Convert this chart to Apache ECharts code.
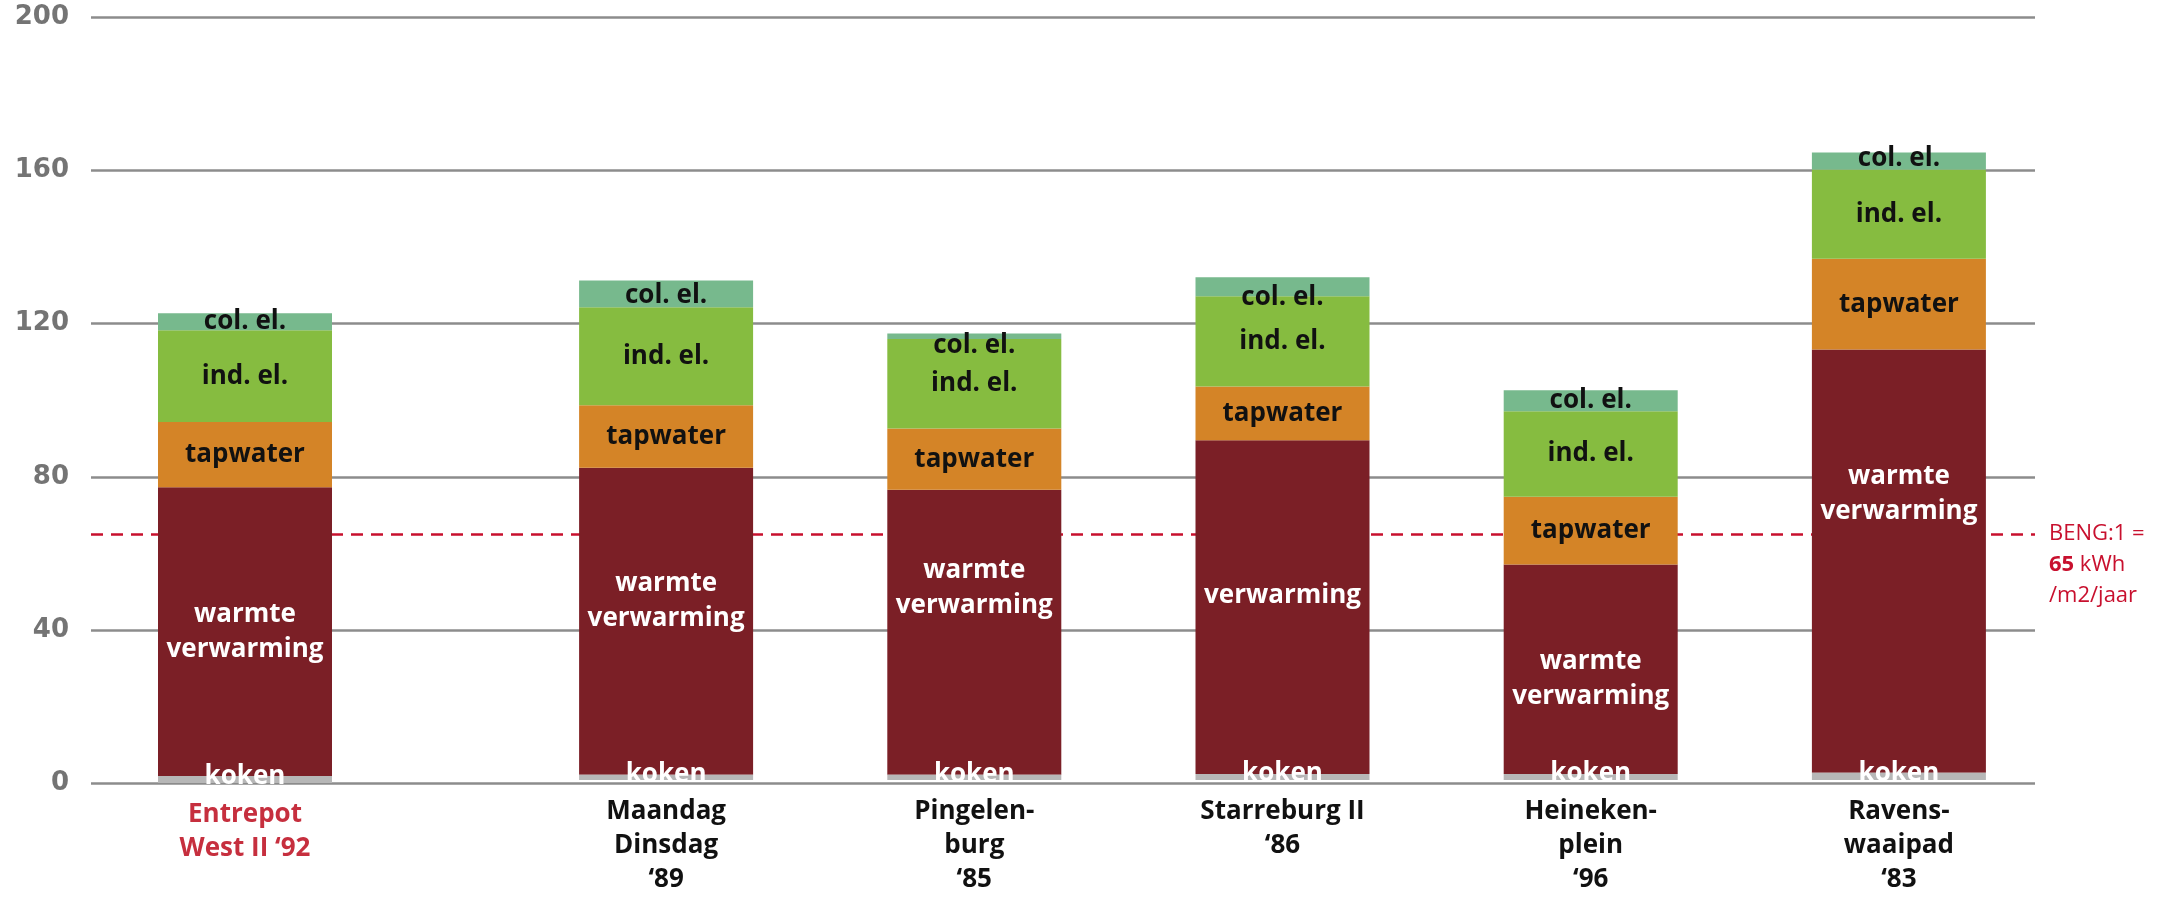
<!DOCTYPE html>
<html>
<head>
<meta charset="utf-8">
<script src="https://cdn.jsdelivr.net/npm/echarts@6/dist/echarts.min.js"></script>
<style>
  html, body { margin: 0; padding: 0; background: #ffffff; }
  #chart { width: 2174px; height: 897px; }
</style>
</head>
<body>
<div id="chart"></div>
<script>
// Energy use per dwelling complex, kWh/m2/jaar, stacked by end use
const categories = [
  'Entrepot\nWest II ‘92',
  'Maandag\nDinsdag\n‘89',
  'Pingelen-\nburg\n‘85',
  'Starreburg II\n‘86',
  'Heineken-\nplein\n‘96',
  'Ravens-\nwaaipad\n‘83'
];
const koken    = [1.8, 1.4, 1.4, 1.6, 1.6, 1.9];
const warmte   = [75.5, 80.5, 74.7, 87.5, 54.9, 111.0];
const tapwater = [17.0, 16.4, 16.1, 14.1, 17.8, 23.8];
const indEl    = [24.0, 25.7, 23.5, 23.7, 22.4, 23.4];
const colEl    = [4.4, 7.0, 1.4, 5.0, 5.5, 4.5];
const warmteLabels = [
  'warmte\nverwarming', 'warmte\nverwarming', 'warmte\nverwarming',
  'verwarming', 'warmte\nverwarming', 'warmte\nverwarming'
];
const yTicks = { min: 0, max: 200, step: 40 };
const bengLimit = 65;

// label nudges (px) so the texts sit where the design puts them
const warmteLabelDy = [0, -20, -44, -12, 10, -67];
const colLabelDy    = [0, 2, 9, 11, 0, -2];

const FONT = '"Open Sans", "DejaVu Sans", sans-serif';
const RED = '#c8102e';

const layers = [
  { key: 'koken',    values: koken,    color: '#b7b7b7', text: '#ffffff', label: () => 'koken' },
  { key: 'warmte',   values: warmte,   color: '#7b1f26', text: '#ffffff', label: i => warmteLabels[i], dy: warmteLabelDy },
  { key: 'tapwater', values: tapwater, color: '#d48427', text: '#111111', label: () => 'tapwater' },
  { key: 'ind. el.', values: indEl,    color: '#86bc40', text: '#111111', label: () => 'ind. el.' },
  { key: 'col. el.', values: colEl,    color: '#77b98d', text: '#111111', label: () => 'col. el.', dy: colLabelDy }
];

// grid 1 holds the reference complex, grid 2 the other five
const groups = [
  { axis: 1, idx: [0] },
  { axis: 2, idx: [1, 2, 3, 4, 5] }
];

const PLOT_TOP = 17.5, PLOT_BOTTOM = 114;

const series = [];
// dummy carrier for the BENG limit line across the full plot, kept behind the bars
series.push({
  type: 'line', xAxisIndex: 0, yAxisIndex: 0, data: [], z: 1, silent: true,
  markLine: {
    z: 1, silent: true, symbol: 'none', animation: false,
    lineStyle: { color: RED, width: 2.5, type: [12, 8] },
    data: [{ yAxis: bengLimit }],
    label: {
      show: true, position: 'end', distance: 14, offset: [0, 31],
      formatter: '{n|BENG:1 =}\n{b|' + bengLimit + '}{n| kWh}\n{n|/m2/jaar}',
      rich: {
        n: { fontFamily: FONT, fontSize: 22, color: RED, lineHeight: 31 },
        b: { fontFamily: FONT, fontSize: 22, color: RED, lineHeight: 31, fontWeight: 'bold' }
      }
    }
  }
});

groups.forEach(g => {
  layers.forEach((layer, li) => {
    series.push({
      type: 'bar', name: layer.key,
      xAxisIndex: g.axis, yAxisIndex: g.axis,
      stack: 'total' + g.axis, barWidth: 174,
      z: li === 0 ? 4 : 3, silent: true, animation: false,
      itemStyle: { color: layer.color },
      data: g.idx.map(i => ({
        value: layer.values[i],
        label: {
          formatter: layer.label(i),
          offset: [0, li === 0 ? -3 : (layer.dy ? layer.dy[i] : 0)]
        }
      })),
      label: {
        show: true, position: 'inside',
        color: layer.text, fontFamily: FONT, fontWeight: 'bold',
        fontSize: 26, lineHeight: 35
      }
    });
  });
});

const xLabelBase = {
  interval: 0, fontFamily: FONT, fontWeight: 'bold', fontSize: 26,
  lineHeight: 34, margin: 15
};

const option = {
  backgroundColor: '#ffffff',
  animation: false,
  grid: [
    { left: 91, right: 139, top: PLOT_TOP, bottom: PLOT_BOTTOM },
    { left: 91, width: 308, top: PLOT_TOP, bottom: PLOT_BOTTOM },
    { left: 512, right: 121, top: PLOT_TOP, bottom: PLOT_BOTTOM }
  ],
  xAxis: [
    { type: 'category', gridIndex: 0, data: [''], show: false },
    {
      type: 'category', gridIndex: 1, data: categories.slice(0, 1),
      axisLine: { show: false }, axisTick: { show: false },
      axisLabel: Object.assign({ color: '#c62f3e' }, xLabelBase)
    },
    {
      type: 'category', gridIndex: 2, data: categories.slice(1),
      axisLine: { show: false }, axisTick: { show: false },
      axisLabel: Object.assign({ color: '#111111' }, xLabelBase)
    }
  ],
  yAxis: [
    {
      type: 'value', gridIndex: 0,
      min: yTicks.min, max: yTicks.max, interval: yTicks.step,
      axisLine: { show: false }, axisTick: { show: false },
      axisLabel: {
        margin: 22, color: '#747474', fontFamily: '"DejaVu Sans", sans-serif',
        fontWeight: 'bold', fontSize: 26
      },
      splitLine: { show: true, lineStyle: { color: '#8c8c8c', width: 2.5 } }
    },
    { type: 'value', gridIndex: 1, min: yTicks.min, max: yTicks.max, show: false, splitLine: { show: false } },
    { type: 'value', gridIndex: 2, min: yTicks.min, max: yTicks.max, show: false, splitLine: { show: false } }
  ],
  series: series
};

const chart = echarts.init(document.getElementById('chart'), null, { renderer: 'canvas' });
chart.setOption(option);
</script>
</body>
</html>
